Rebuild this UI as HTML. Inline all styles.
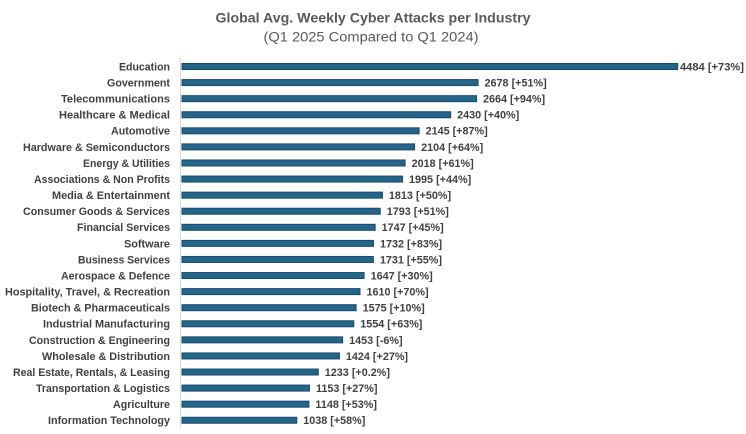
<!DOCTYPE html>
<html><head><meta charset="utf-8"><style>
html,body{margin:0;padding:0;background:#fff;}
svg{display:block;}
.c{font-family:"Liberation Sans",sans-serif;font-weight:bold;font-size:10.7px;fill:#404040;}
.v{font-family:"Liberation Sans",sans-serif;font-weight:bold;font-size:10.8px;fill:#404040;}
.b{fill:#25658a;stroke:#174b69;stroke-width:1;}
</style></head><body>
<svg width="746" height="434" viewBox="0 0 746 434" xmlns="http://www.w3.org/2000/svg">
<rect width="746" height="434" fill="#fff"/>
<text x="373" y="22.5" text-anchor="middle" textLength="315" lengthAdjust="spacingAndGlyphs" style="font-family:'Liberation Sans',sans-serif;font-weight:bold;font-size:14px;fill:#595959">Global Avg. Weekly Cyber Attacks per Industry</text>
<text x="371" y="41.7" text-anchor="middle" textLength="215" lengthAdjust="spacingAndGlyphs" style="font-family:'Liberation Sans',sans-serif;font-size:13.5px;fill:#595959">(Q1 2025 Compared to Q1 2024)</text>
<line x1="180.5" y1="58" x2="180.5" y2="428" stroke="#d9d9d9" stroke-width="1"/>
<g>
<rect class="b" x="182" y="63.5" width="495.71" height="6"/>
<rect class="b" x="182" y="79.58" width="296.05" height="6"/>
<rect class="b" x="182" y="95.66" width="294.51" height="6"/>
<rect class="b" x="182" y="111.74" width="268.64" height="6"/>
<rect class="b" x="182" y="127.82" width="237.13" height="6"/>
<rect class="b" x="182" y="143.9" width="232.6" height="6"/>
<rect class="b" x="182" y="159.98" width="223.09" height="6"/>
<rect class="b" x="182" y="176.06" width="220.55" height="6"/>
<rect class="b" x="182" y="192.14" width="200.43" height="6"/>
<rect class="b" x="182" y="208.22" width="198.22" height="6"/>
<rect class="b" x="182" y="224.3" width="193.13" height="6"/>
<rect class="b" x="182" y="240.38" width="191.47" height="6"/>
<rect class="b" x="182" y="256.46" width="191.36" height="6"/>
<rect class="b" x="182" y="272.54" width="182.08" height="6"/>
<rect class="b" x="182" y="288.62" width="177.99" height="6"/>
<rect class="b" x="182" y="304.7" width="174.12" height="6"/>
<rect class="b" x="182" y="320.78" width="171.79" height="6"/>
<rect class="b" x="182" y="336.86" width="160.63" height="6"/>
<rect class="b" x="182" y="352.94" width="157.42" height="6"/>
<rect class="b" x="182" y="369.02" width="136.31" height="6"/>
<rect class="b" x="182" y="385.1" width="127.46" height="6"/>
<rect class="b" x="182" y="401.18" width="126.91" height="6"/>
<rect class="b" x="182" y="417.26" width="114.75" height="6"/>
</g>
<g text-anchor="end">
<text class="c" x="170" y="70.4" textLength="51" lengthAdjust="spacingAndGlyphs">Education</text>
<text class="c" x="170" y="86.48" textLength="63" lengthAdjust="spacingAndGlyphs">Government</text>
<text class="c" x="170" y="102.56" textLength="109" lengthAdjust="spacingAndGlyphs">Telecommunications</text>
<text class="c" x="170" y="118.64" textLength="111" lengthAdjust="spacingAndGlyphs">Healthcare &amp; Medical</text>
<text class="c" x="170" y="134.72" textLength="59" lengthAdjust="spacingAndGlyphs">Automotive</text>
<text class="c" x="170" y="150.8" textLength="147" lengthAdjust="spacingAndGlyphs">Hardware &amp; Semiconductors</text>
<text class="c" x="170" y="166.88" textLength="87" lengthAdjust="spacingAndGlyphs">Energy &amp; Utilities</text>
<text class="c" x="170" y="182.96" textLength="136" lengthAdjust="spacingAndGlyphs">Associations &amp; Non Profits</text>
<text class="c" x="170" y="199.04" textLength="118" lengthAdjust="spacingAndGlyphs">Media &amp; Entertainment</text>
<text class="c" x="170" y="215.12" textLength="147" lengthAdjust="spacingAndGlyphs">Consumer Goods &amp; Services</text>
<text class="c" x="170" y="231.2" textLength="93" lengthAdjust="spacingAndGlyphs">Financial Services</text>
<text class="c" x="170" y="247.28" textLength="46" lengthAdjust="spacingAndGlyphs">Software</text>
<text class="c" x="170" y="263.36" textLength="92" lengthAdjust="spacingAndGlyphs">Business Services</text>
<text class="c" x="170" y="279.44" textLength="109" lengthAdjust="spacingAndGlyphs">Aerospace &amp; Defence</text>
<text class="c" x="170" y="295.52" textLength="165" lengthAdjust="spacingAndGlyphs">Hospitality, Travel, &amp; Recreation</text>
<text class="c" x="170" y="311.6" textLength="139" lengthAdjust="spacingAndGlyphs">Biotech &amp; Pharmaceuticals</text>
<text class="c" x="170" y="327.68" textLength="127" lengthAdjust="spacingAndGlyphs">Industrial Manufacturing</text>
<text class="c" x="170" y="343.76" textLength="141" lengthAdjust="spacingAndGlyphs">Construction &amp; Engineering</text>
<text class="c" x="170" y="359.84" textLength="128" lengthAdjust="spacingAndGlyphs">Wholesale &amp; Distribution</text>
<text class="c" x="170" y="375.92" textLength="157" lengthAdjust="spacingAndGlyphs">Real Estate, Rentals, &amp; Leasing</text>
<text class="c" x="170" y="392" textLength="134" lengthAdjust="spacingAndGlyphs">Transportation &amp; Logistics</text>
<text class="c" x="170" y="408.08" textLength="57" lengthAdjust="spacingAndGlyphs">Agriculture</text>
<text class="c" x="170" y="424.16" textLength="122" lengthAdjust="spacingAndGlyphs">Information Technology</text>
</g>
<g>
<text class="v" x="680" y="70.4" textLength="64" lengthAdjust="spacingAndGlyphs">4484 [+73%]</text>
<text class="v" x="484.55" y="86.48">2678 [+51%]</text>
<text class="v" x="483.01" y="102.56">2664 [+94%]</text>
<text class="v" x="457.14" y="118.64">2430 [+40%]</text>
<text class="v" x="425.63" y="134.72">2145 [+87%]</text>
<text class="v" x="421.1" y="150.8">2104 [+64%]</text>
<text class="v" x="411.59" y="166.88">2018 [+61%]</text>
<text class="v" x="409.05" y="182.96">1995 [+44%]</text>
<text class="v" x="388.93" y="199.04">1813 [+50%]</text>
<text class="v" x="386.72" y="215.12">1793 [+51%]</text>
<text class="v" x="381.63" y="231.2">1747 [+45%]</text>
<text class="v" x="379.97" y="247.28">1732 [+83%]</text>
<text class="v" x="379.86" y="263.36">1731 [+55%]</text>
<text class="v" x="370.58" y="279.44">1647 [+30%]</text>
<text class="v" x="366.49" y="295.52">1610 [+70%]</text>
<text class="v" x="362.62" y="311.6">1575 [+10%]</text>
<text class="v" x="360.29" y="327.68">1554 [+63%]</text>
<text class="v" x="349.13" y="343.76">1453 [-6%]</text>
<text class="v" x="345.92" y="359.84">1424 [+27%]</text>
<text class="v" x="324.81" y="375.92">1233 [+0.2%]</text>
<text class="v" x="315.96" y="392">1153 [+27%]</text>
<text class="v" x="315.41" y="408.08">1148 [+53%]</text>
<text class="v" x="303.25" y="424.16">1038 [+58%]</text>
</g>
</svg>
</body></html>
